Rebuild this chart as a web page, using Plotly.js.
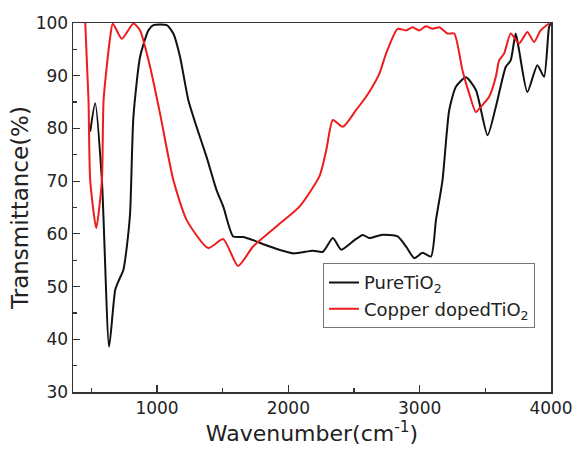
<!DOCTYPE html>
<html><head><meta charset="utf-8">
<script src="https://cdn.plot.ly/plotly-3.0.1.min.js"></script>
<style>html,body{margin:0;padding:0;background:#fff}#chart{width:576px;height:450px}</style>
</head><body><div id="chart"></div>
<script>
const pureX = [491,529,580,635,681,706,744,770,795,820,871,934,972,1074,1124,1175,1238,1301,1377,1453,1504,1580,1656,1731,1858,2035,2187,2263,2339,2402,2503,2567,2617,2706,2832,2896,2959,3022,3086,3124,3174,3225,3276,3352,3428,3517,3580,3656,3693,3731,3757,3820,3896,3947,3985,4000];
const pureY = [79.4,84.8,70.2,38.6,49.3,51.0,53.2,57.6,64.0,82.2,93.6,98.6,99.6,99.6,98.0,93.6,85.4,80.3,74.6,68.3,65.2,59.5,59.4,58.8,57.6,56.3,56.8,56.6,59.2,57.0,58.8,59.8,59.2,59.8,59.5,57.6,55.4,56.4,55.7,62.6,70.2,83.5,87.9,89.7,87.3,78.7,84.1,91.7,92.9,98.0,94.8,86.9,92.0,89.8,99.2,100];
const cuX = [453,478,491,537,580,593,643,663,732,820,871,947,1023,1124,1226,1390,1504,1617,1731,1909,2086,2238,2289,2339,2415,2516,2592,2693,2744,2832,2896,2946,2997,3048,3098,3149,3212,3263,3326,3377,3428,3466,3529,3580,3605,3643,3693,3757,3820,3871,3921,3985];
const cuY = [100.2,85.4,70.2,61.1,70.2,85.4,97.3,99.9,97.0,99.9,98.6,91.7,82.8,70.2,62.6,57.3,59.0,53.9,57.6,61.4,65.2,71.0,75.9,81.6,80.3,83.5,86.0,90.4,94.2,98.9,98.6,99.2,98.6,99.4,98.9,99.2,98.0,98.0,91.0,86.6,83.1,84.1,86.0,89.8,92.9,94.2,98.0,96.1,98.3,96.4,98.6,99.9];
const seriesNames = ['PureTiO<sub>2</sub>', 'Copper dopedTiO<sub>2</sub>'];

const F = 'DejaVu Sans, sans-serif';
const traces = [
  {x: pureX, y: pureY, name: seriesNames[0], mode: 'lines', line: {color: '#111111', width: 2, shape: 'spline', smoothing: 0.6}},
  {x: cuX, y: cuY, name: seriesNames[1], mode: 'lines', line: {color: '#ee1c1c', width: 2, shape: 'spline', smoothing: 0.6}}
];
const axisCommon = {showgrid: false, zeroline: false, showline: true, linecolor: '#333', linewidth: 1.5, mirror: true,
  ticks: 'inside', ticklen: 7, tickwidth: 1.2, tickcolor: '#333', tickfont: {family: F, size: 17, color: '#222'}};
const layout = {
  width: 576, height: 450,
  margin: {l: 73, r: 25, t: 23, b: 58},
  paper_bgcolor: '#fff', plot_bgcolor: '#fff',
  showlegend: true,
  legend: {x: 0.523, y: 0.349, xanchor: 'left', yanchor: 'top', bordercolor: '#777', borderwidth: 1, bgcolor: '#fff',
    font: {family: F, size: 18, color: '#222'}, tracegroupgap: 0, itemwidth: 30},
  xaxis: Object.assign({}, axisCommon, {range: [360, 4000], dtick: 1000, tick0: 0,
    minor: {ticks: 'inside', ticklen: 4, dtick: 500, tick0: 0, tickcolor: '#333'},
    title: {text: 'Wavenumber(cm<sup>-1</sup>)', font: {family: F, size: 22, color: '#222'}, standoff: 7}}),
  yaxis: Object.assign({}, axisCommon, {range: [30, 100], dtick: 10, tick0: 0,
    minor: {ticks: 'inside', ticklen: 4, dtick: 5, tick0: 0, tickcolor: '#333'},
    title: {text: 'Transmittance(%)', font: {family: F, size: 23, color: '#222'}, standoff: 0}})
};
Plotly.newPlot('chart', traces, layout, {displayModeBar: false, staticPlot: true});
</script></body></html>
